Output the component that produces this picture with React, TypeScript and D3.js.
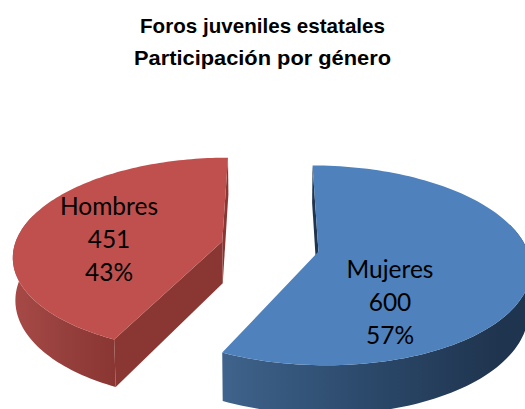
import React from "react";
import * as d3 from "d3";

const titleLines = ["Foros juveniles estatales", "Participación por género"];
const categories = ["Mujeres", "Hombres"];
const values = [600, 451];
const percents = ["57%", "43%"];
const topColors = ["#4f81bd", "#c0504d"];
const flatWallColors = ["#1f344e", "#8a3633"];
const gradientStops = [
  ["#3f638c", "#2c4a6c", "#1f344e"],
  ["#a84a47", "#96403d", "#8a3633"],
];
const labelAnchors = [[390, 270], [109, 207]];

const W = 525, H = 409;
const CX = 270, CY = 246.5, R = 208, B = 0.137, A = 96.6, DEPTH = 42, BACK = 0.99, EXPLODE = 0.237;

type P = [number, number];
const project = (wx: number, wy: number, bottom: boolean): P => {
  const s = 1 / (1 - B * wy);
  return bottom
    ? [CX + R * wx * s * BACK, CY + A * wy * s + DEPTH * s]
    : [CX + R * wx * s, CY + A * wy * s];
};

const slices = d3.pie<number>().sort(null)(values);
const line = d3.line<P>();

export default function App() {
  return (
    <svg width={W} height={H} style={{ position: "fixed", left: 0, top: 0, background: "#fff" }}>
      <defs>
        {slices.map((sl, i) => {
          const x1 = i === 0 ? 222 : 12;
          const x2 = i === 0 ? 500 : 113;
          return (
            <linearGradient key={i} id={`wall${i}`} gradientUnits="userSpaceOnUse" x1={x1} x2={x2} y1={0} y2={0}>
              {gradientStops[i].map((c, j) => (
                <stop key={j} offset={j / 2} stopColor={c} />
              ))}
            </linearGradient>
          );
        })}
      </defs>
      {slices.map((sl, i) => {
        const mid = (sl.startAngle + sl.endAngle) / 2;
        const ox = Math.sin(mid) * EXPLODE;
        const oy = -Math.cos(mid) * EXPLODE;
        const pt = (a: number, r: number, bottom: boolean) =>
          project(ox + r * Math.sin(a), oy - r * Math.cos(a), bottom);
        const angles = d3.range(0, 121).map((k) => sl.startAngle + ((sl.endAngle - sl.startAngle) * k) / 120);
        const top: P[] = [pt(0, 0, false), ...angles.map((a) => pt(a, 1, false))];
        const front = angles.filter((a) => Math.abs(a - Math.PI) < Math.PI / 2 + 0.3);
        const wall: P[] = [
          ...front.map((a) => pt(a, 1, false)),
          ...front.slice().reverse().map((a) => pt(a, 1, true)),
        ];
        const cutA = i === 0 ? sl.startAngle : sl.endAngle;
        const cutB = i === 0 ? null : sl.startAngle;
        const back: P[] = [pt(cutA, 0, false), pt(cutA, 1, false), pt(cutA, 1, true), pt(cutA, 0, true)];
        const cut2: P[] | null =
          cutB === null ? null : [pt(cutB, 0, false), pt(cutB, 1, false), pt(cutB, 1, true), pt(cutB, 0, true)];
        const [lx, ly] = labelAnchors[i];
        return (
          <g key={i}>
            <path d={line(back)! + "Z"} fill={flatWallColors[i]} />
            {cut2 && <path d={line(cut2)! + "Z"} fill={flatWallColors[i]} />}
            <path d={line(wall)! + "Z"} fill={`url(#wall${i})`} />
            <path d={line(top)! + "Z"} fill={topColors[i]} />
            <g fontFamily="Lato" fontSize={24.5} fill="#000" textAnchor="middle">
              <text x={lx} y={ly + 8}>{categories[i]}</text>
              <text x={lx} y={ly + 41}>{values[i]}</text>
              <text x={lx} y={ly + 74}>{percents[i]}</text>
            </g>
          </g>
        );
      })}
      <g fontFamily="Liberation Sans" fontWeight="bold" fontSize={21} fill="#000" textAnchor="middle">
        {titleLines.map((t, i) => (
          <text key={i} x={262.5} y={33 + i * 32} textLength={i === 0 ? 245 : 257} lengthAdjust="spacingAndGlyphs">{t}</text>
        ))}
      </g>
    </svg>
  );
}
